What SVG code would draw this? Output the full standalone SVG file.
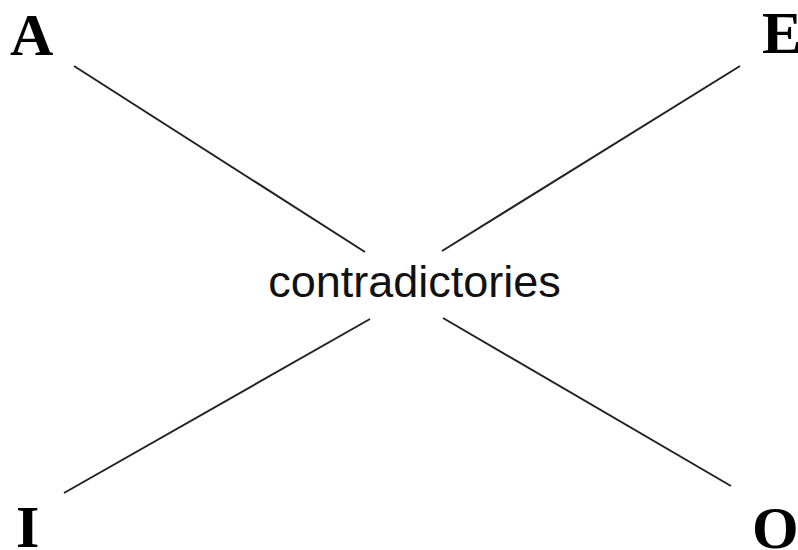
<svg xmlns="http://www.w3.org/2000/svg" width="798" height="550" viewBox="0 0 798 550">
<style>
.corner{font-family:"Liberation Serif","Times New Roman",serif;font-weight:bold;font-size:60px;fill:#000}
.lbl{font-family:"Liberation Sans",Arial,sans-serif;font-size:45px;fill:#111}
.ln{stroke:#222;stroke-width:2;fill:none}
</style>
<rect width="798" height="550" fill="#fff"/>
<g id="connectors">
<line class="ln" x1="74" y1="66" x2="365" y2="252"/>
<line class="ln" x1="740" y1="66" x2="442" y2="251"/>
<line class="ln" x1="64" y1="493" x2="370" y2="319"/>
<line class="ln" x1="731" y1="486" x2="443" y2="318"/>
</g>
<g id="A"><text class="corner" x="10" y="55">A</text></g>
<g id="E"><text class="corner" x="762" y="53">E</text></g>
<g id="I"><text class="corner" x="16" y="547">I</text></g>
<g id="O"><text class="corner" x="752" y="548">O</text></g>
<g id="center"><text class="lbl" x="414.5" y="297" text-anchor="middle">contradictories</text></g>
</svg>
